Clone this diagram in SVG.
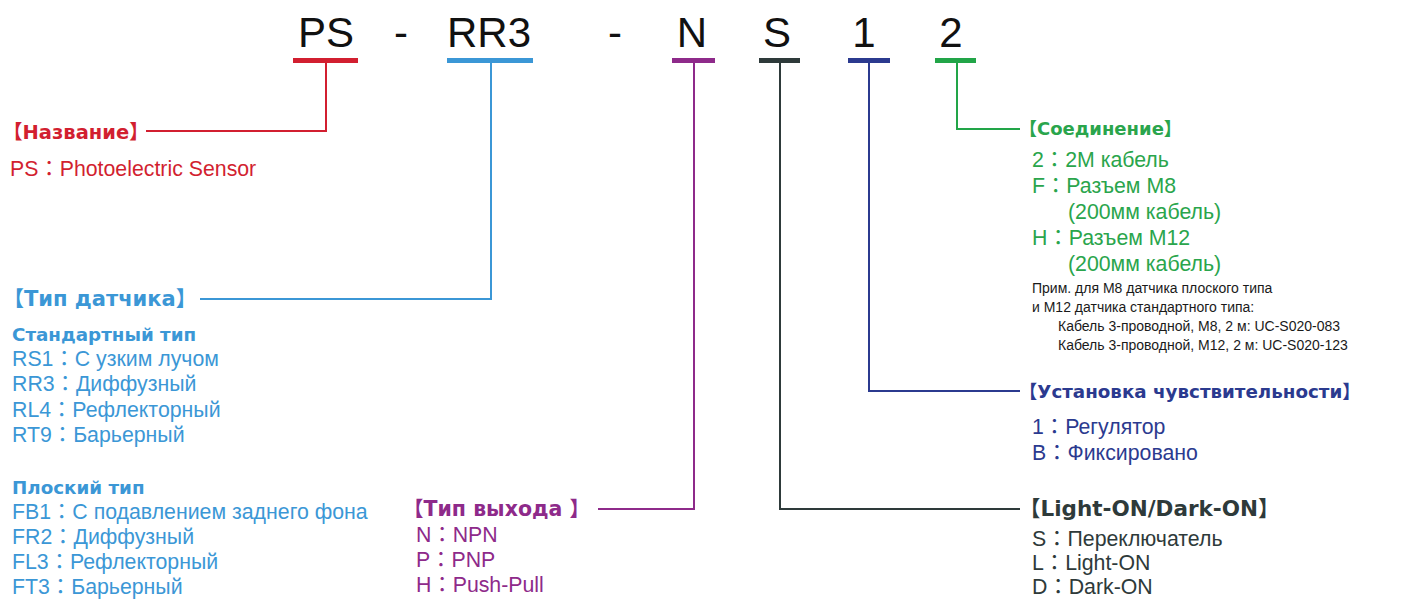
<svg xmlns="http://www.w3.org/2000/svg" width="1410" height="599" viewBox="0 0 1410 599">
<style>
.code{font-family:"Liberation Sans",Arial,sans-serif;font-size:42px;fill:#111;text-anchor:middle}
.hd{font-family:"DejaVu Sans","Noto Sans CJK JP",sans-serif;font-weight:bold}
.tx{font-family:"Liberation Sans","Noto Sans CJK JP",sans-serif;font-size:21.3px}
.sm{font-family:"Liberation Sans","Noto Sans CJK JP",sans-serif;font-size:14px;fill:#1a1a1a}
.ln{fill:none;stroke-width:2}
</style>
<rect width="1410" height="599" fill="#fff"/>
<g id="code">
<text class="code" x="326" y="47">PS</text>
<text class="code" x="401" y="47">-</text>
<text class="code" x="489" y="47">RR3</text>
<text class="code" x="615" y="47">-</text>
<text class="code" x="692" y="47">N</text>
<text class="code" x="777" y="47">S</text>
<text class="code" x="864" y="47">1</text>
<text class="code" x="951" y="47">2</text>
<rect x="293" y="58" width="65" height="5" fill="#d21f30"/>
<rect x="447" y="58" width="86" height="5" fill="#3b97d6"/>
<rect x="672" y="58" width="43" height="5" fill="#8e2a8a"/>
<rect x="759" y="58" width="41" height="5" fill="#2e3a3a"/>
<rect x="848" y="58" width="42" height="5" fill="#2b3a8f"/>
<rect x="935" y="58" width="41" height="5" fill="#22a548"/>
</g>
<g id="connectors">
<polyline class="ln" stroke="#d21f30" points="326,63 326,131 146,131"/>
<polyline class="ln" stroke="#3b97d6" points="491,63 491,299 200,299"/>
<polyline class="ln" stroke="#8e2a8a" points="694,63 694,509 598,509"/>
<polyline class="ln" stroke="#2e3a3a" points="780,63 780,509 1020,509"/>
<polyline class="ln" stroke="#2b3a8f" points="869,63 869,391 1020,391"/>
<polyline class="ln" stroke="#22a548" points="957,63 957,129 1020,129"/>
</g>
<g id="name" fill="#d21f30">
<text class="hd" x="3" y="139" font-size="19.5">【Название】</text>
<text class="tx" x="10" y="176">PS：Photoelectric Sensor</text>
</g>
<g id="sensor-type" fill="#3b97d6">
<text class="hd" x="3" y="306" font-size="21">【Тип датчика】</text>
<text class="hd" x="12" y="341" font-size="18.3">Стандартный тип</text>
<text class="tx" x="12" y="366">RS1：С узким лучом</text>
<text class="tx" x="12" y="391">RR3：Диффузный</text>
<text class="tx" x="12" y="417">RL4：Рефлекторный</text>
<text class="tx" x="12" y="442">RT9：Барьерный</text>
<text class="hd" x="12" y="494" font-size="18.3">Плоский тип</text>
<text class="tx" x="12" y="519">FB1：С подавлением заднего фона</text>
<text class="tx" x="12" y="544">FR2：Диффузный</text>
<text class="tx" x="12" y="569">FL3：Рефлекторный</text>
<text class="tx" x="12" y="594">FT3：Барьерный</text>
</g>
<g id="output" fill="#8e2a8a">
<text class="hd" x="403" y="516" font-size="20.5">【Тип выхода 】</text>
<text class="tx" x="416" y="542">N：NPN</text>
<text class="tx" x="416" y="567">P：PNP</text>
<text class="tx" x="416" y="592">H：Push-Pull</text>
</g>
<g id="connection" fill="#2aa54c">
<text class="hd" x="1019" y="135" font-size="18">【Соединение】</text>
<text class="tx" x="1032" y="167">2：2M кабель</text>
<text class="tx" x="1032" y="193">F：Разъем M8</text>
<text class="tx" x="1068" y="219">(200мм кабель)</text>
<text class="tx" x="1032" y="245">H：Разъем M12</text>
<text class="tx" x="1068" y="271">(200мм кабель)</text>
</g>
<g id="note">
<text class="sm" x="1032" y="293">Прим. для M8 датчика плоского типа</text>
<text class="sm" x="1032" y="312">и M12 датчика стандартного типа:</text>
<text class="sm" x="1058" y="331">Кабель 3-проводной, M8, 2 м: UC-S020-083</text>
<text class="sm" x="1058" y="350">Кабель 3-проводной, M12, 2 м: UC-S020-123</text>
</g>
<g id="sensitivity" fill="#2b3a8f">
<text class="hd" x="1019" y="398" font-size="18.3">【Установка чувствительности】</text>
<text class="tx" x="1032" y="434">1：Регулятор</text>
<text class="tx" x="1032" y="460">B：Фиксировано</text>
</g>
<g id="light-dark" fill="#2e3a3a">
<text class="hd" x="1019" y="516" font-size="21.5">【Light-ON/Dark-ON】</text>
<text class="tx" x="1032" y="546">S：Переключатель</text>
<text class="tx" x="1032" y="570">L：Light-ON</text>
<text class="tx" x="1032" y="594">D：Dark-ON</text>
</g>
</svg>
